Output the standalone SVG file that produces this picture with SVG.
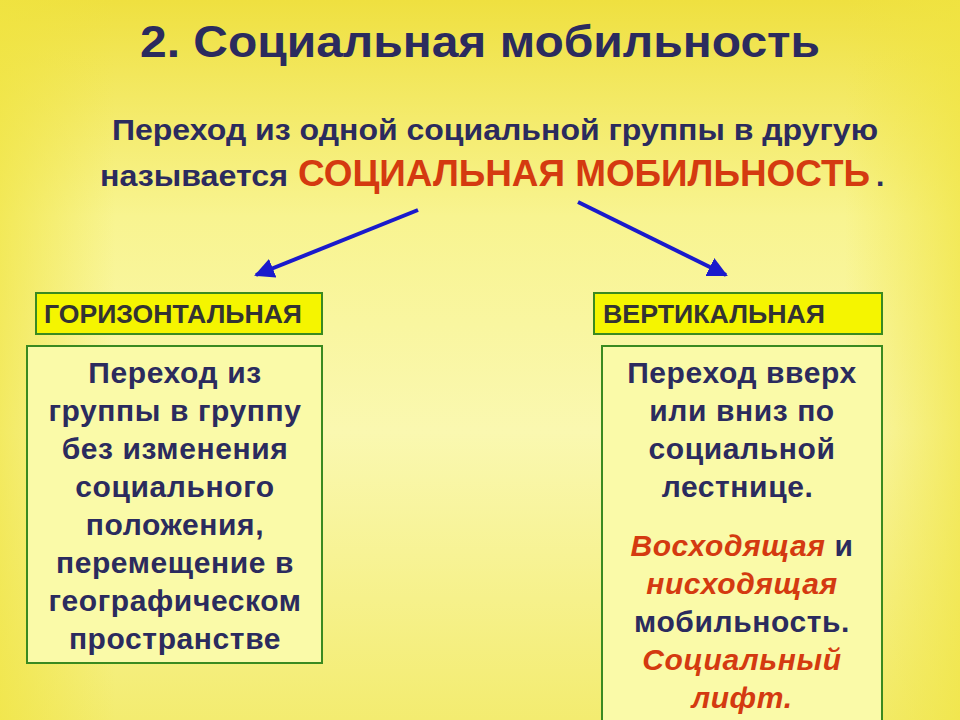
<svg xmlns="http://www.w3.org/2000/svg" width="960" height="720" viewBox="0 0 960 720">
<defs>
<linearGradient id="bg" x1="0" y1="0" x2="0" y2="1">
<stop offset="0" stop-color="#efe040"/>
<stop offset="0.3" stop-color="#f8f490"/>
<stop offset="0.6" stop-color="#faf8b0"/>
<stop offset="1" stop-color="#f3ec70"/>
</linearGradient>
<linearGradient id="side" x1="0" y1="0" x2="1" y2="0">
<stop offset="0" stop-color="#f0e440" stop-opacity="0.7"/>
<stop offset="0.12" stop-color="#f0e440" stop-opacity="0"/>
<stop offset="0.88" stop-color="#f0e440" stop-opacity="0"/>
<stop offset="1" stop-color="#f0e440" stop-opacity="0.7"/>
</linearGradient>
<marker id="ah" viewBox="0 0 10 10" refX="9" refY="5" markerWidth="5" markerHeight="5" orient="auto"><path d="M0,0L10,5L0,10z" fill="#1a1acc"/></marker>
<style>
.t{font-family:"Liberation Sans",Arial,sans-serif;font-weight:bold}
.b{font-size:30px;fill:#2b2b5e;text-anchor:middle;letter-spacing:0.6px}
.r{fill:#d43a10;font-style:italic}
.lab{fill:#f5f500;stroke:#3a8a20;stroke-width:2}
.box{fill:#fafaa8;stroke:#3a8a20;stroke-width:2}
.lt{font-size:25px;fill:#333}
</style>
</defs>
<rect width="960" height="720" fill="url(#bg)"/>
<rect width="960" height="720" fill="url(#side)"/>
<text class="t" x="140" y="57" font-size="44" fill="#2b2b5e" textLength="680" lengthAdjust="spacingAndGlyphs">2. Социальная мобильность</text>
<text class="t" x="112" y="140" font-size="30" fill="#2b2b5e" textLength="766" lengthAdjust="spacingAndGlyphs">Переход из одной социальной группы в другую</text>
<text class="t" x="100" y="186" font-size="30" fill="#2b2b5e" textLength="188" lengthAdjust="spacingAndGlyphs">называется</text>
<text class="t" x="298" y="186" font-size="36" fill="#d43a10" textLength="572" lengthAdjust="spacingAndGlyphs">СОЦИАЛЬНАЯ МОБИЛЬНОСТЬ</text>
<text class="t" x="876" y="186" font-size="30" fill="#2b2b5e">.</text>
<g id="connectors" stroke="#1a1acc" stroke-width="4" fill="none">
<line x1="418" y1="210" x2="256" y2="275" marker-end="url(#ah)"/>
<line x1="578" y1="202" x2="726" y2="275" marker-end="url(#ah)"/>
</g>
<g id="horiz-label"><rect class="lab" x="36" y="293" width="286" height="41"/><text class="t lt" x="44" y="323" textLength="258" lengthAdjust="spacingAndGlyphs">ГОРИЗОНТАЛЬНАЯ</text></g>
<g id="vert-label"><rect class="lab" x="594" y="293" width="288" height="41"/><text class="t lt" x="603" y="323" textLength="222" lengthAdjust="spacingAndGlyphs">ВЕРТИКАЛЬНАЯ</text></g>
<g id="horiz-box"><rect class="box" x="27" y="346" width="295" height="317"/>
<text class="t b"><tspan x="175" y="383">Переход из</tspan><tspan x="175" y="421">группы в группу</tspan><tspan x="175" y="459">без изменения</tspan><tspan x="175" y="497">социального</tspan><tspan x="175" y="535">положения,</tspan><tspan x="175" y="573">перемещение в</tspan><tspan x="175" y="611">географическом</tspan><tspan x="175" y="649">пространстве</tspan></text></g>
<g id="vert-box"><rect class="box" x="602" y="346" width="280" height="390"/>
<text class="t b"><tspan x="742" y="383">Переход вверх</tspan><tspan x="742" y="421">или вниз по</tspan><tspan x="742" y="459">социальной</tspan><tspan x="742" y="497">лестнице.</tspan>
<tspan x="742" y="556"><tspan class="r">Восходящая</tspan> и</tspan><tspan x="742" y="594" class="r">нисходящая</tspan><tspan x="742" y="632">мобильность.</tspan><tspan x="742" y="670" class="r">Социальный</tspan><tspan x="742" y="708" class="r">лифт.</tspan></text></g>
</svg>
